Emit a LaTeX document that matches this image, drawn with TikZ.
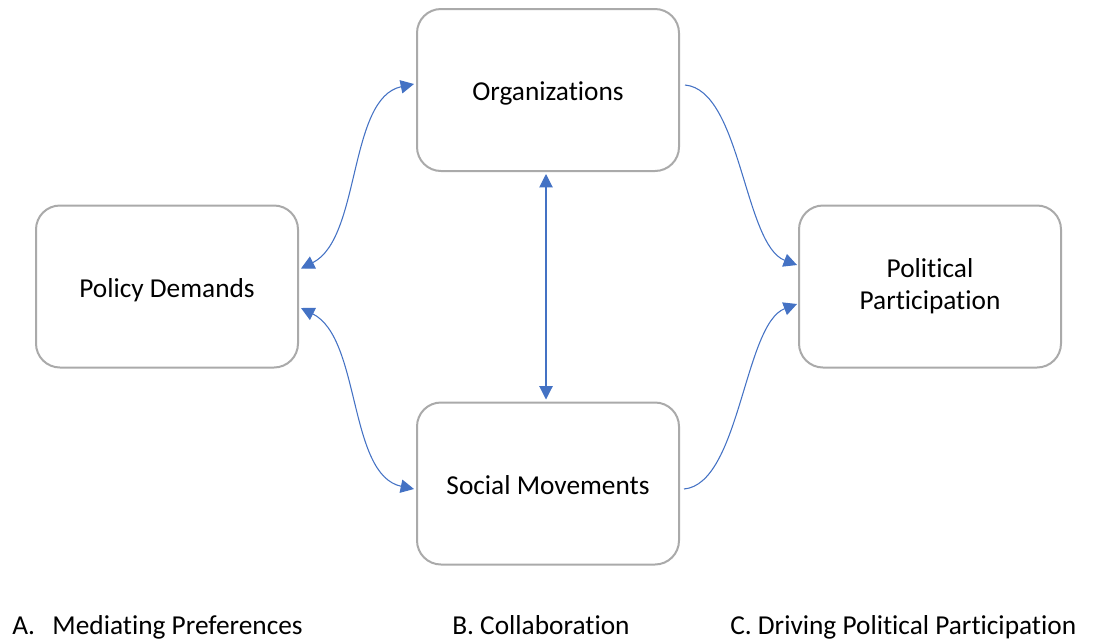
\documentclass[tikz,border=0pt]{standalone}
\usepackage{fontspec}
\setmainfont{Carlito}[Ligatures={NoCommon,NoRequired,NoContextual}]
\usetikzlibrary{arrows.meta,calc}
\definecolor{boxgray}{RGB}{170,170,170}
\definecolor{linkblue}{RGB}{68,114,196}
\tikzset{
  % rounded boxes with grey border
  box/.style = {draw=boxgray, line width=1.5pt, rounded corners=18pt, fill=white,
    minimum width=196.5pt, minimum height=121.5pt, align=center,
    font=\fontsize{20.5}{24}\selectfont},
  oneline/.style = {box, text height=16.5pt, text depth=0.7pt},
  link/.style = {draw=linkblue, line width=0.8pt},
  tip/.tip = {Triangle[length=10pt,width=10pt]},
  caption/.style = {anchor=base west, inner sep=0pt, font=\fontsize{20.5}{24}\selectfont}
}
\begin{document}
\begin{tikzpicture}[x=0.75pt,y=-0.75pt]
    \useasboundingbox (0,0) rectangle (1096,640);
    % Boxes:
    \node [oneline] (org) at (548,90) {Organizations};
    \node [oneline] (pd) at (167,286.5) {Policy Demands};
    \node [box] (pp) at (930,286.5) {Political\\Participation};
    \node [oneline] (sm) at (548,483.5) {Social Movements};
    % A - mediating preferences:
    \draw [link,tip-tip] ($(pd.east)+(2,-18)$) .. controls +(60,-30) and +(-66,14) .. ($(org.west)+(-2,-6)$);
    \draw [link,tip-tip] ($(pd.east)+(2,21.5)$) .. controls +(60,30) and +(-66,-14) .. ($(sm.west)+(-2,5.5)$);
    % B - collaboration:
    \draw [link,tip-tip] ($(org.south)+(-2,2)$) -- ($(sm.north)+(-2,-2)$);
    % C - driving participation:
    \draw [link,-tip] ($(org.east)+(5,-5)$) .. controls +(56,5) and +(-53,-20) .. ($(pp.west)+(-1,-21.5)$);
    \draw [link,-tip] ($(sm.east)+(4,5.5)$) .. controls +(56,-5) and +(-53,20) .. ($(pp.west)+(-1,17.5)$);
    % Captions:
    \node [caption] (capa) at (12,634) {A.\hspace{13pt}Mediating Preferences};
    \node [caption] (capb) at (452,634) {B. Collaboration};
    \node [caption] (capc) at (730,634) {C. Driving Political Participation};
\end{tikzpicture}
\end{document}
